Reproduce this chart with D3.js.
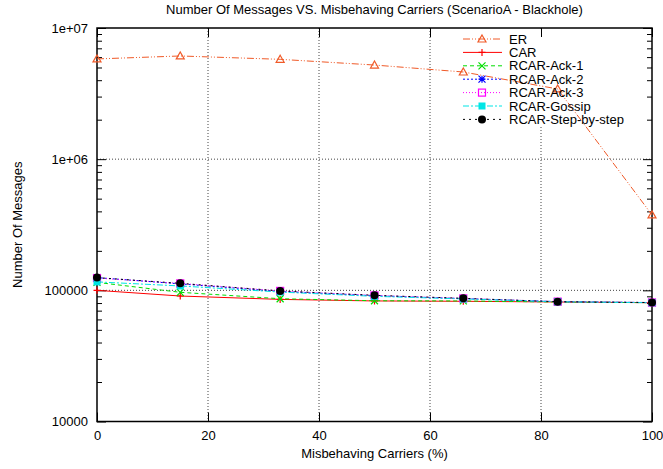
<!DOCTYPE html>
<html>
<head>
<meta charset="utf-8">
<script src="https://cdn.jsdelivr.net/npm/d3@7"></script>
<style>
  body { margin: 0; background: #fff; }
  svg text { font-family: "Liberation Sans", Arial, sans-serif; font-size: 13px; fill: #000; }
</style>
</head>
<body>
<div id="chart"></div>
<script>
// Data.
var carriers = [0, 15, 33, 50, 66, 83, 100];
var seriesNames = ["ER", "CAR", "RCAR-Ack-1", "RCAR-Ack-2", "RCAR-Ack-3", "RCAR-Gossip", "RCAR-Step-by-step"];
var erValues = [5810000, 6120000, 5770000, 5220000, 4620000, 3430000, 376000];
var carValues = [100000, 90500, 85300, 83000, 82500, 81500, 80500];
var ack1Values = [115000, 96600, 86300, 83300, 83000, 81500, 80500];
var ack2Values = [125000, 112000, 98000, 91000, 86500, 82000, 80700];
var ack3Values = [124000, 113000, 99000, 91500, 86800, 82000, 80700];
var gossipValues = [116000, 108000, 97000, 90000, 86000, 81800, 80500];
var stepValues = [125000, 113000, 99000, 91600, 86900, 81900, 80700];
var xTicks = [0, 20, 40, 60, 80, 100];
var yTicks = [10000, 100000, 1000000, 10000000];
var yTickLabels = ["10000", "100000", "1e+06", "1e+07"];

// Layout (don't call these top/left: window.top is read-only).
var width = 663, height = 469;
var plotLeft = 97, plotRight = 652, plotTop = 28, plotBottom = 421.5;

var svg = d3.select("#chart").append("svg")
    .attr("width", width)
    .attr("height", height);

var x = d3.scaleLinear().domain([0, 100]).range([plotLeft, plotRight]);
var y = d3.scaleLog().domain([10000, 10000000]).range([plotBottom, plotTop]);

// minor ticks for the log axis (2..9 in each decade)
var yMinor = [];
yTicks.slice(0, 3).forEach(function(d) {
  for (var k = 2; k <= 9; k++) yMinor.push(d * k);
});

// Grid lines (major only).
var grid = svg.append("g").attr("class", "grid");
xTicks.slice(1, 5).forEach(function(t) {
  grid.append("line")
    .attr("x1", x(t)).attr("x2", x(t))
    .attr("y1", plotTop).attr("y2", plotBottom)
    .attr("stroke", "#444").attr("stroke-dasharray", "1,2");
});
yTicks.slice(1, 3).forEach(function(t) {
  grid.append("line")
    .attr("x1", plotLeft).attr("x2", plotRight)
    .attr("y1", y(t)).attr("y2", y(t))
    .attr("stroke", "#444").attr("stroke-dasharray", "1,2");
});

// the key clears the grid behind it
svg.append("rect")
  .attr("x", 446).attr("y", plotTop + 1)
  .attr("width", plotRight - 447).attr("height", 97)
  .attr("fill", "#fff");

// Axes with inward ticks.
function styleAxis(g) {
  g.select(".domain").remove();
  g.selectAll(".tick line").attr("stroke", "#000");
  g.selectAll("text").style("font-size", "13px").style("font-family", "'Liberation Sans', Arial, sans-serif");
}

svg.append("g")
  .attr("transform", "translate(" + plotLeft + ",0)")
  .call(d3.axisLeft(y).tickValues(yTicks).tickFormat(function(d, i) { return yTickLabels[i]; })
        .tickSizeInner(-9).tickSizeOuter(0).tickPadding(9))
  .call(styleAxis);
svg.append("g")
  .attr("transform", "translate(" + plotLeft + ",0)")
  .call(d3.axisLeft(y).tickValues(yMinor).tickFormat("").tickSizeInner(-5).tickSizeOuter(0))
  .call(styleAxis);
svg.append("g")
  .attr("transform", "translate(" + plotRight + ",0)")
  .call(d3.axisRight(y).tickValues(yTicks).tickFormat("").tickSizeInner(-9).tickSizeOuter(0))
  .call(styleAxis);
svg.append("g")
  .attr("transform", "translate(" + plotRight + ",0)")
  .call(d3.axisRight(y).tickValues(yMinor).tickFormat("").tickSizeInner(-5).tickSizeOuter(0))
  .call(styleAxis);

svg.append("g")
  .attr("transform", "translate(0," + plotBottom + ")")
  .call(d3.axisBottom(x).tickValues(xTicks).tickFormat(d3.format("d"))
        .tickSizeInner(-9).tickSizeOuter(0).tickPadding(9))
  .call(styleAxis);
svg.append("g")
  .attr("transform", "translate(0," + plotTop + ")")
  .call(d3.axisTop(x).tickValues(xTicks).tickFormat("").tickSizeInner(-9).tickSizeOuter(0))
  .call(styleAxis);

// Frame.
svg.append("rect")
  .attr("x", plotLeft).attr("y", plotTop)
  .attr("width", plotRight - plotLeft).attr("height", plotBottom - plotTop)
  .attr("fill", "none").attr("stroke", "#000").attr("stroke-width", 1.5);

// Titles.
svg.append("text")
  .attr("x", (plotLeft + plotRight) / 2).attr("y", 14)
  .attr("text-anchor", "middle")
  .text("Number Of Messages VS. Misbehaving Carriers (ScenarioA - Blackhole)");
svg.append("text")
  .attr("x", (plotLeft + plotRight) / 2).attr("y", 458)
  .attr("text-anchor", "middle")
  .text("Misbehaving Carriers (%)");
svg.append("text")
  .attr("transform", "translate(22," + (plotTop + plotBottom) / 2 + ") rotate(-90)")
  .attr("text-anchor", "middle")
  .text("Number Of Messages");

// Series styles.
var series = [
  { name: seriesNames[0], values: erValues,     color: "#f05a28", dash: "7,2,1,2,1,2", marker: "triangle" },
  { name: seriesNames[1], values: carValues,    color: "#ff0000", dash: null,           marker: "plus" },
  { name: seriesNames[2], values: ack1Values,   color: "#00dd00", dash: "4,3",          marker: "cross" },
  { name: seriesNames[3], values: ack2Values,   color: "#0000ff", dash: "2,2",          marker: "star" },
  { name: seriesNames[4], values: ack3Values,   color: "#ff00ff", dash: "1,2",          marker: "square" },
  { name: seriesNames[5], values: gossipValues, color: "#00e5e5", dash: "6,2,2,2",      marker: "fsquare" },
  { name: seriesNames[6], values: stepValues,   color: "#000000", dash: "2,4",          marker: "circle" }
];

function drawMarker(g, kind, cx, cy, color) {
  var s = 3.5;
  if (kind === "triangle") {
    g.append("path")
      .attr("d", "M" + cx + "," + (cy - s - 0.5) + "L" + (cx + s + 0.5) + "," + (cy + s - 0.5) + "L" + (cx - s - 0.5) + "," + (cy + s - 0.5) + "Z")
      .attr("fill", "none").attr("stroke", color).attr("stroke-width", 1.2);
  } else if (kind === "plus") {
    g.append("path")
      .attr("d", "M" + (cx - s) + "," + cy + "H" + (cx + s) + "M" + cx + "," + (cy - s) + "V" + (cy + s))
      .attr("stroke", color).attr("stroke-width", 1.2);
  } else if (kind === "cross") {
    g.append("path")
      .attr("d", "M" + (cx - s) + "," + (cy - s) + "L" + (cx + s) + "," + (cy + s) + "M" + (cx - s) + "," + (cy + s) + "L" + (cx + s) + "," + (cy - s))
      .attr("stroke", color).attr("stroke-width", 1.2);
  } else if (kind === "star") {
    g.append("path")
      .attr("d", "M" + (cx - s) + "," + (cy - s) + "L" + (cx + s) + "," + (cy + s) + "M" + (cx - s) + "," + (cy + s) + "L" + (cx + s) + "," + (cy - s) +
                 "M" + (cx - s) + "," + cy + "H" + (cx + s) + "M" + cx + "," + (cy - s) + "V" + (cy + s))
      .attr("stroke", color).attr("stroke-width", 1.2);
  } else if (kind === "square") {
    g.append("rect")
      .attr("x", cx - s).attr("y", cy - s).attr("width", 2 * s).attr("height", 2 * s)
      .attr("fill", "none").attr("stroke", color).attr("stroke-width", 1.2);
  } else if (kind === "fsquare") {
    g.append("rect")
      .attr("x", cx - s).attr("y", cy - s).attr("width", 2 * s).attr("height", 2 * s)
      .attr("fill", color);
  } else if (kind === "circle") {
    g.append("circle").attr("cx", cx).attr("cy", cy).attr("r", s + 0.5).attr("fill", color);
  }
}

var line = d3.line()
  .x(function(d, i) { return x(carriers[i]); })
  .y(function(d) { return y(d); });

series.forEach(function(s) {
  var g = svg.append("g").attr("class", "series");
  g.append("path")
    .datum(s.values)
    .attr("d", line)
    .attr("fill", "none")
    .attr("stroke", s.color)
    .attr("stroke-width", 1)
    .attr("stroke-dasharray", s.dash);
  s.values.forEach(function(v, i) {
    drawMarker(g, s.marker, x(carriers[i]), y(v), s.color);
  });
});

// Legend.
var legend = svg.append("g").attr("id", "legend");
series.forEach(function(s, i) {
  var ly = 39 + i * 13.4;
  legend.append("line")
    .attr("x1", 463).attr("x2", 502)
    .attr("y1", ly).attr("y2", ly)
    .attr("stroke", s.color).attr("stroke-dasharray", s.dash);
  drawMarker(legend, s.marker, 482, ly, s.color);
  legend.append("text")
    .attr("x", 509).attr("y", ly)
    .attr("dy", "0.35em")
    .text(s.name);
});
</script>
</body>
</html>
